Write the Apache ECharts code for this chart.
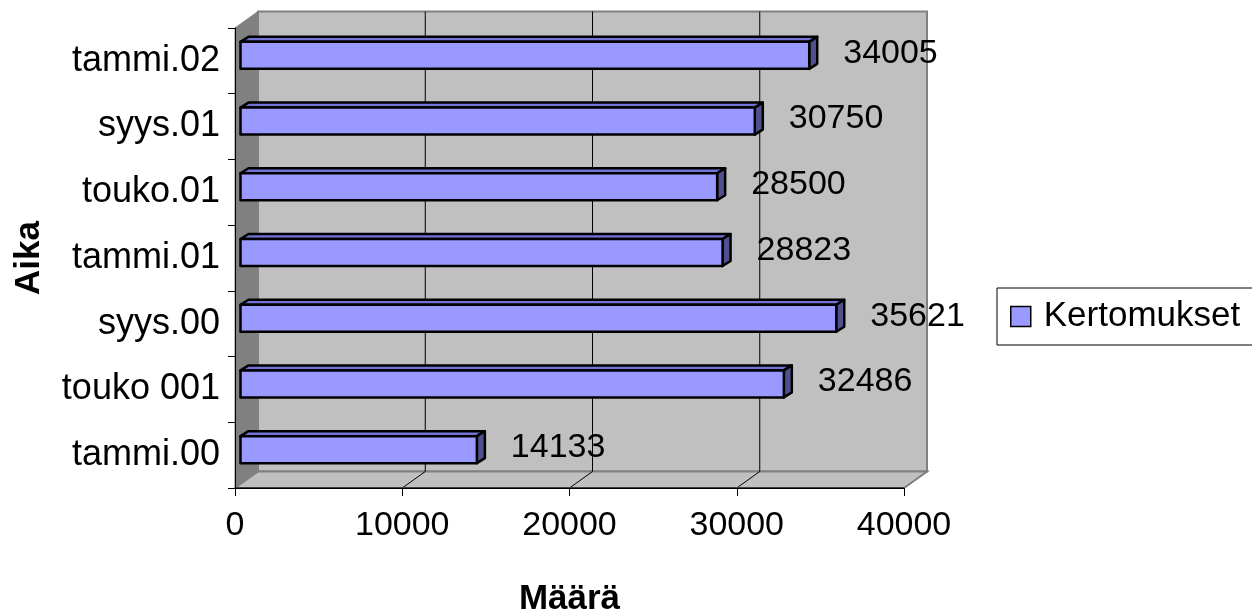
<!DOCTYPE html>
<html><head><meta charset="utf-8">
<script src="https://cdn.jsdelivr.net/npm/echarts@6/dist/echarts.min.js"></script>
<style>html,body{margin:0;padding:0;background:#fff}#c{width:1252px;height:613px}</style>
</head><body><div id="c"></div>
<script>
var categories = ['tammi.00','touko 001','syys.00','tammi.01','touko.01','syys.01','tammi.02'];
var values = [14133, 32486, 35621, 28823, 28500, 30750, 34005];
var xTicks = [0, 10000, 20000, 30000, 40000];
var seriesName = 'Kertomukset';

var FONT = "'Liberation Sans', Arial, sans-serif";
var DX = 23, DY = -16.5;       // depth of the chart box
var BX = 5.5, BY = -4;         // front face of bars
var BDX = 8, BDY = -5;         // bar depth

var chart = echarts.init(document.getElementById('c'), null, {renderer: 'canvas'});

function wallsRender(params, api) {
  var band = api.size([0, 1])[1];
  var n = categories.length;
  var xMin = xTicks[0], xMax = xTicks[xTicks.length - 1];
  var pBL = api.coord([xMin, 0]); var pTL = api.coord([xMin, n - 1]);
  var bottom = pBL[1] + band / 2, top = pTL[1] - band / 2;
  var left = pBL[0], right = api.coord([xMax, 0])[0];
  var ch = [];
  ch.push({type: 'rect', shape: {x: left + DX, y: top + DY, width: right - left, height: bottom - top},
    style: {fill: '#c0c0c0', stroke: '#808080', lineWidth: 2}});
  ch.push({type: 'polygon', shape: {points: [[left, top], [left + DX, top + DY], [left + DX, bottom + DY], [left, bottom]]},
    style: {fill: '#808080', stroke: '#808080', lineWidth: 1}});
  ch.push({type: 'polygon', shape: {points: [[left, bottom], [left + DX, bottom + DY], [right + DX, bottom + DY], [right, bottom]]},
    style: {fill: '#c0c0c0', stroke: '#808080', lineWidth: 2}});
  for (var i = 1; i < xTicks.length - 1; i++) {
    var x = api.coord([xTicks[i], 0])[0];
    ch.push({type: 'line', shape: {x1: x + DX, y1: top + DY, x2: x + DX, y2: bottom + DY}, style: {stroke: '#000', lineWidth: 1}});
    ch.push({type: 'line', shape: {x1: x, y1: bottom, x2: x + DX, y2: bottom + DY}, style: {stroke: '#000', lineWidth: 1}});
  }
  ch.push({type: 'line', shape: {x1: left, y1: bottom, x2: right, y2: bottom}, style: {stroke: '#404040', lineWidth: 2}});
  return {type: 'group', children: ch};
}

function barRender(params, api) {
  var v = api.value(0), idx = api.value(1);
  var p0 = api.coord([0, idx]);
  var p1 = api.coord([v, idx]);
  var h = 27;
  var x0 = p0[0] + BX, x1 = p1[0] + BX;
  var yc = p0[1] + BY - 1.5;
  var y0 = yc - h / 2, y1 = yc + h / 2;
  var st = {stroke: '#000', lineWidth: 2.5, lineJoin: 'round'};
  return {type: 'group', children: [
    {type: 'polygon', shape: {points: [[x0, y0], [x0 + BDX, y0 + BDY], [x1 + BDX, y0 + BDY], [x1, y0]]},
      style: Object.assign({fill: '#7373d6'}, st)},
    {type: 'polygon', shape: {points: [[x1, y0], [x1 + BDX, y0 + BDY], [x1 + BDX, y1 + BDY], [x1, y1]]},
      style: Object.assign({fill: '#50508f'}, st)},
    {type: 'rect', shape: {x: x0, y: y0, width: x1 - x0, height: h},
      style: Object.assign({fill: '#9999ff'}, st)},
    {type: 'text', x: x1 + 34, y: yc - 2, z2: 10,
      style: {text: String(v), fill: '#000', font: '34px ' + FONT, textAlign: 'left', textVerticalAlign: 'middle'}}
  ]};
}

var option = {
  animation: false,
  backgroundColor: '#fff',
  textStyle: {fontFamily: FONT},
  grid: {left: 235, right: 348, top: 28, bottom: 125, containLabel: false, outerBoundsMode: 'none'},
  legend: {
    data: [seriesName], left: 997, top: 288, orient: 'vertical',
    padding: [11, 40, 11, 13], borderColor: '#000', borderWidth: 1, backgroundColor: '#fff',
    icon: 'rect', itemWidth: 20, itemHeight: 20,
    itemStyle: {color: '#9999ff', borderColor: '#000', borderWidth: 1.5},
    textStyle: {fontSize: 35, color: '#000', fontFamily: FONT, padding: [0, 0, 0, 8]}
  },
  xAxis: {
    type: 'value', min: 0, max: 40000, interval: 10000, z: 10,
    name: 'Määrä', nameLocation: 'middle', nameGap: 94, nameMoveOverlap: false,
    nameTextStyle: {fontSize: 35, fontWeight: 'bold', color: '#000', fontFamily: FONT},
    axisLine: {show: true, lineStyle: {color: '#000', width: 1}},
    axisTick: {show: true, length: 8, lineStyle: {color: '#000'}},
    axisLabel: {fontSize: 34, color: '#000', margin: 21, fontFamily: FONT, formatter: function (v) { return String(v); }},
    splitLine: {show: false}
  },
  yAxis: {
    type: 'category', data: categories, z: 10,
    name: 'Aika', nameLocation: 'middle', nameGap: 188, nameRotate: 90, nameMoveOverlap: false,
    nameTextStyle: {fontSize: 35, fontWeight: 'bold', color: '#000', fontFamily: FONT},
    axisLine: {show: true, lineStyle: {color: '#000', width: 1}},
    axisTick: {show: true, length: 7, lineStyle: {color: '#000'}},
    axisLabel: {fontSize: 36, color: '#000', margin: 15, fontFamily: FONT},
    splitLine: {show: false}
  },
  series: [
    {type: 'custom', name: 'walls', z: 1, silent: true, renderItem: wallsRender, data: [[0, 0]], encode: {x: 0, y: 1}},
    {type: 'custom', name: seriesName, z: 3, renderItem: barRender,
      itemStyle: {color: '#9999ff', borderColor: '#000', borderWidth: 1.5},
      data: values.map(function (v, i) { return [v, i]; }), encode: {x: 0, y: 1}}
  ]
};
chart.setOption(option);
</script></body></html>
